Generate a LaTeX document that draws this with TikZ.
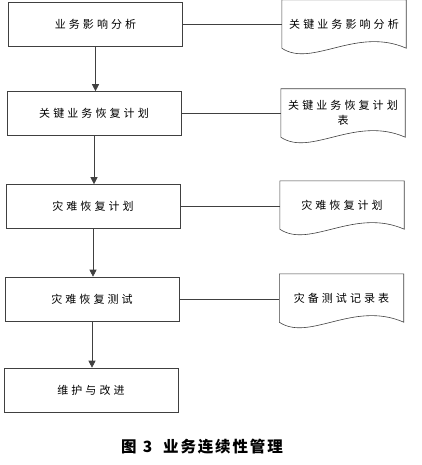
\documentclass[tikz,border=0pt]{standalone}
\usepackage{fontspec}
\newfontfamily\cjk[LetterSpace=28]{Noto Sans CJK SC}
\newfontfamily\cjkcap[LetterSpace=12]{Noto Sans CJK SC}
\usetikzlibrary{arrows.meta, calc}

\begin{document}
\begin{tikzpicture}[x=1pt, y=-1pt,
    % ── boxes ──
    stepBox/.style = {draw=black!75, line width=0.6pt, minimum width=174pt,
                      minimum height=44pt, inner sep=0pt,
                      font=\cjk\fontsize{11}{13}\selectfont},
    docBox/.style  = {minimum width=124pt, minimum height=48pt, inner sep=0pt,
                      align=center, font=\cjk\fontsize{11}{15}\selectfont},
    docLine/.style = {draw=black!75, line width=0.6pt},
    % ── connectors ──
    arr/.style     = {-{Triangle[width=7pt,length=7pt]}, line width=0.6pt,
                      black!75},
    link/.style    = {line width=0.6pt, black!75},
    % ── caption ──
    capLabel/.style= {font=\cjkcap\bfseries\fontsize{15.5}{18}\selectfont},
]
\useasboundingbox (0,0) rectangle (422,465);

% =====================================================================
% left column: steps
% =====================================================================
\node[stepBox] (b1) at (95.5,24.5) {业务影响分析};
\node[stepBox] (b2) at (94,113.5)  {关键业务恢复计划};
\node[stepBox] (b3) at (93,206.5)  {灾难恢复计划};
\node[stepBox] (b4) at (92,299)    {灾难恢复测试};
\node[stepBox] (b5) at (91,390)    {维护与改进};

% =====================================================================
% right column: documents
% =====================================================================
\node[docBox] (d1) at (344,24)  {关键业务影响分析};
\node[docBox] (d2) at (343,113) {关键业务恢复计划\\表};
\node[docBox] (d3) at (342,205) {灾难恢复计划};
\node[docBox] (d4) at (341.5,298) {灾备测试记录表};

% wavy bottom outline
\foreach \n in {d1,d2,d3,d4}{
  \draw[docLine] (\n.south west) -- (\n.north west) -- (\n.north east)
    -- (\n.south east)
    .. controls ($(\n.south east)+(-50,-22)$) and ($(\n.south west)+(30,20)$)
    .. (\n.south west);
}

% =====================================================================
% arrows down the column
% =====================================================================
\draw[arr] (b1.south) -- (b1.south |- b2.north);
\draw[arr] (b2.south) -- (b2.south |- b3.north);
\draw[arr] (b3.south) -- (b3.south |- b4.north);
\draw[arr] (b4.south) -- (b4.south |- b5.north);

% links step → document
\draw[link] (b1.east) -- (b1.east -| d1.west);
\draw[link] (b2.east) -- (b2.east -| d2.west);
\draw[link] (b3.east) -- (b3.east -| d3.west);
\draw[link] (b4.east) -- (b4.east -| d4.west);

% caption
\node[capLabel] (cap) at (202,447)
  {图\hspace{0.4em}3\hspace{0.7em}业务连续性管理};

\end{tikzpicture}
\end{document}
